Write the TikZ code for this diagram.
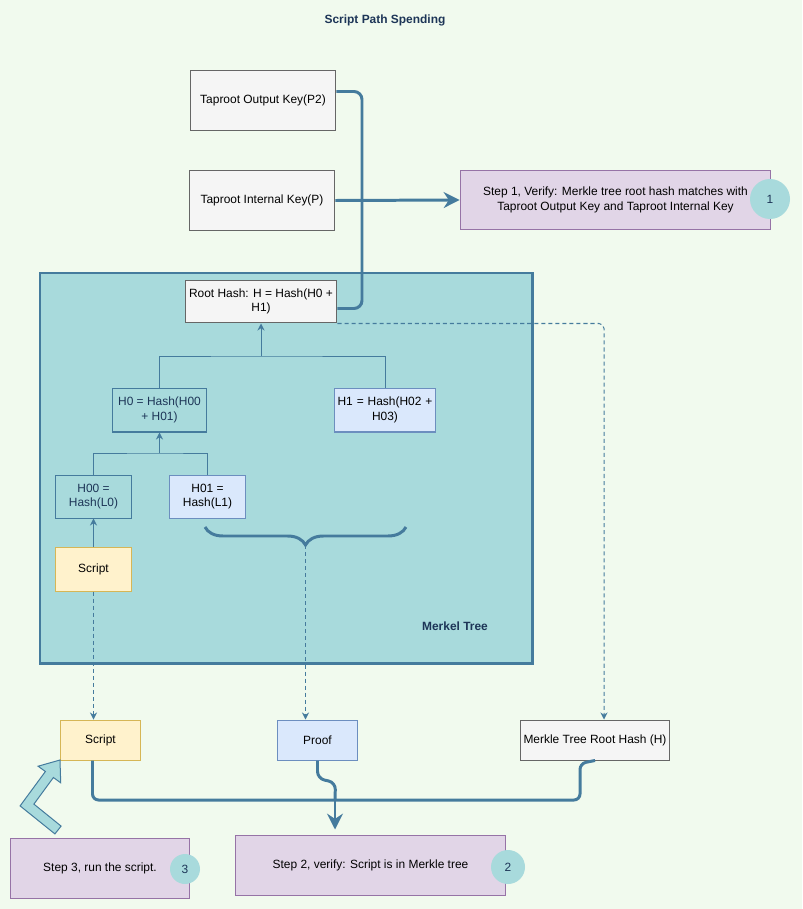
\documentclass[tikz,border=0pt]{standalone}
\usepackage{fontspec}
\setmainfont{Liberation Sans}
\usetikzlibrary{arrows.meta}
\usetikzlibrary{decorations.pathreplacing}

\definecolor{paper}{HTML}{F1FAEE}
\definecolor{tealfill}{HTML}{A8DADC}
\definecolor{steel}{HTML}{457B9D}
\definecolor{navy}{HTML}{1D3557}
\definecolor{greyfill}{HTML}{F5F5F5}
\definecolor{greyline}{HTML}{666666}
\definecolor{bluefill}{HTML}{DAE8FC}
\definecolor{blueline}{HTML}{6C8EBF}
\definecolor{yellowfill}{HTML}{FFF2CC}
\definecolor{yellowline}{HTML}{D6B656}
\definecolor{purplefill}{HTML}{E1D5E7}
\definecolor{purpleline}{HTML}{9673A6}

\newcommand{\boxfont}{\fontsize{6.8pt}{8.2pt}\selectfont}

\begin{document}
\begin{tikzpicture}[x=0.02cm, y=-0.02cm,
    box/.style={rectangle, line width=0.57pt, align=center, inner sep=1pt, font=\boxfont},
    greybox/.style={box, draw=greyline, fill=greyfill},
    bluebox/.style={box, draw=blueline, fill=bluefill},
    yellowbox/.style={box, draw=yellowline, fill=yellowfill},
    tealbox/.style={box, draw=steel, fill=tealfill, text=navy},
    stepbox/.style={box, draw=purpleline, fill=purplefill},
    badge/.style={circle, fill=tealfill, text=navy, font=\boxfont, inner sep=0pt},
    treeline/.style={draw=steel, line width=0.57pt},
    treearrow/.style={treeline, -{Stealth[length=4pt, width=4pt]}},
    dasharrow/.style={treeline, dash pattern=on 2.3pt off 1.7pt, -{Stealth[length=4pt, width=4pt]}},
    thickline/.style={draw=steel, line width=1.7pt},
    thickarrow/.style={thickline, -{Stealth[length=9pt, width=9pt]}}]
    \useasboundingbox (0,0) rectangle (802,909);
    \fill[paper] (0,0) rectangle (802,909);

    \node[font=\bfseries\boxfont, text=navy] (title) at (385,20) {Script Path Spending};

    % Keys and step 1
    \node[greybox, minimum width=2.92cm, minimum height=1.22cm] (outkey) at (263,100.5) {Taproot Output Key(P2)};
    \node[greybox, minimum width=2.92cm, minimum height=1.22cm] (inkey) at (262,200.5) {Taproot Internal Key(P)};
    \node[stepbox, minimum width=6.22cm, minimum height=1.2cm] (step1) at (615.5,200) {Step 1, Verify: Merkle tree root hash matches with\\Taproot Output Key and Taproot Internal Key};
    \node[badge, minimum size=0.8cm] (b1) at (770,199) {1};

    % Merkel tree container
    \draw[fill=tealfill, draw=steel, line width=1.7pt] (40,273) rectangle (532,663);
    \node[font=\bfseries\boxfont, text=navy] (treelabel) at (455,626) {Merkel Tree};

    \node[greybox, minimum width=3.04cm, minimum height=0.86cm] (root) at (261,301.5) {Root Hash: H = Hash(H0 +\\H1)};
    \node[tealbox, minimum width=1.9cm, minimum height=0.88cm] (h0) at (159.5,410) {H0 = Hash(H00\\+ H01)};
    \node[bluebox, text width=1.9cm, minimum width=2.04cm, minimum height=0.88cm] (h1) at (385,410) {H1 = Hash(H02 +\\H03)};
    \node[tealbox, minimum width=1.54cm, minimum height=0.86cm] (h00) at (93.5,496.5) {H00 =\\Hash(L0)};
    \node[bluebox, minimum width=1.54cm, minimum height=0.86cm] (h01) at (207.5,496.5) {H01 =\\Hash(L1)};
    \node[yellowbox, minimum width=1.54cm, minimum height=0.88cm] (scr) at (93.5,569) {Script};

    \coordinate (j1) at (root.south |- 0,356);
    \coordinate (j2) at (h0.south |- 0,453);
    \draw[treeline] (h0.north) |- (j1) -| (h1.north);
    \draw[treearrow] (j1) -- (root.south);
    \draw[treeline] (h00.north) |- (j2) -| (h01.north);
    \draw[treearrow] (j2) -- (h0.south);
    \draw[treearrow] (scr.north) -- (h00.south);

    \draw[thickline, decorate, decoration={brace, mirror, amplitude=0.36cm}] (205,527) -- (406,527);
    \coordinate (bracetip) at (305.5,545);

    % Output key to root hash, internal key to step 1
    \coordinate (k1) at ([yshift=0.18cm]outkey.east);
    \coordinate (k2) at ([yshift=-0.14cm]root.east);
    \draw[thickline, rounded corners=0.16cm] (k1) -- (k1 -| 362,0) -- (k2 -| 362,0) -- (k2);
    \draw[thickarrow] (inkey.east) -- (step1.west);

    % Bottom row
    \node[yellowbox, minimum width=1.62cm, minimum height=0.8cm] (script) at (100.5,740) {Script};
    \node[bluebox, minimum width=1.62cm, minimum height=0.8cm] (proof) at (317.5,740) {Proof};
    \node[greybox, minimum width=3cm, minimum height=0.8cm] (mtrh) at (595,740) {Merkle Tree Root Hash (H)};

    \draw[dasharrow, rounded corners=0.1cm] (root.south east) -| ([xshift=0.18cm]mtrh.north);
    \draw[dasharrow] (scr.south) -- (scr.south |- script.north);
    \draw[dasharrow] (bracetip) -- (bracetip |- proof.north);

    \node[stepbox, minimum width=5.42cm, minimum height=1.2cm] (step2) at (370.5,865) {Step 2, verify: Script is in Merkle tree};
    \node[badge, minimum size=0.68cm] (b2) at (508,867) {2};
    \node[stepbox, minimum width=3.6cm, minimum height=1.2cm] (step3) at (100,868) {Step 3, run the script.};
    \node[badge, minimum size=0.6cm] (b3) at (185,869) {3};

    \coordinate (m) at (335,800);
    \draw[thickline, rounded corners=0.12cm] ([xshift=-0.16cm]script.south) |- (m);
    \draw[thickline, rounded corners=0.14cm] (proof.south) -- ++(0,18) -- ++(18,4) -- (m);
    \draw[thickline, rounded corners=0.12cm] (mtrh.south) -- ++(-15,3) |- (m);
    \draw[thickarrow] (m) -- ([yshift=0.1cm]m |- step2.north);

    % Run the script arrow
    \filldraw[fill=tealfill, draw=steel, line width=0.57pt, line join=miter] (54.9,833.9) -- (20.1,805.9) -- (45.4,771.5) -- (38.1,766.2) -- (60,760) -- (60.7,782.8) -- (53.4,777.5) -- (33.9,804.1) -- (61.1,826.1) -- cycle;
\end{tikzpicture}
\end{document}
